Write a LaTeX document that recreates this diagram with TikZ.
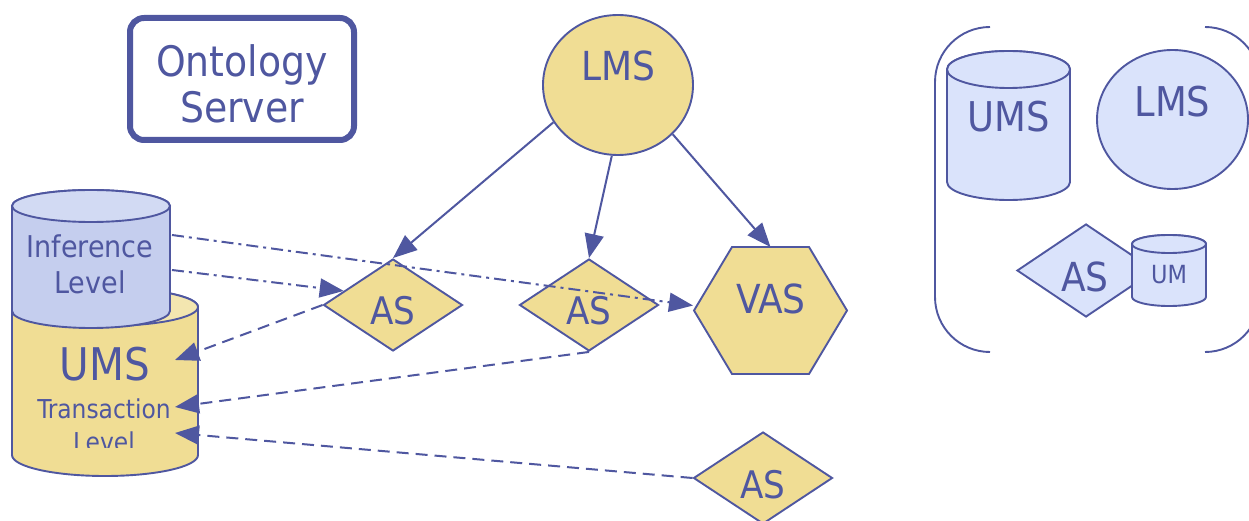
\documentclass[tikz,border=0pt]{standalone}
\usepackage{fontspec}
\setmainfont{DejaVu Sans Condensed}
\usetikzlibrary{arrows.meta,shapes.geometric,calc}
\definecolor{ink}{RGB}{79,87,160}
\definecolor{gold}{RGB}{240,221,148}
\definecolor{goldtop}{RGB}{243,230,176}
\definecolor{infblue}{RGB}{197,206,238}
\definecolor{inftop}{RGB}{210,218,243}
\definecolor{pale}{RGB}{218,227,251}
\newcommand{\fs}[1]{\fontsize{#1}{#1}\selectfont}
\begin{document}
\begin{tikzpicture}[x=1pt,y=-1pt,
  outline/.style={draw=ink, line width=1.9pt},
  txt/.style={text=ink, inner sep=0pt, anchor=base},
  hold/.style={inner sep=0pt, outer sep=0pt},
  diam/.style={diamond, outline, fill=gold, inner sep=0pt, minimum width=139pt, minimum height=92pt},
  link/.style={draw=ink, line width=2pt, -{Triangle[length=24pt,width=19pt]}},
  dashlink/.style={link, dash pattern=on 12pt off 7pt},
  dotlink/.style={link, dash pattern=on 12pt off 5pt on 3pt off 5pt}]
\useasboundingbox (0,0) rectangle (1249,521);

% Ontology server
\node[draw=ink, line width=6pt, rounded corners=14pt, fill=white,
      minimum width=224pt, minimum height=122pt] (onto) at (242,79) {};
\node[txt, font=\fs{42}] at (242,77) {Ontology};
\node[txt, font=\fs{42}] at (242,123) {Server};

% top LMS
\node[ellipse, outline, fill=gold, minimum width=150pt, minimum height=140pt] (lms) at (618,85) {};
\node[txt, font=\fs{40}] at (618,81) {LMS};

% UMS (transaction level) cylinder
\node[hold, minimum width=186pt, minimum height=148pt] (ums) at (105,381) {};
\path[outline, fill=gold] (12,307) -- (12,455)
  arc[start angle=180, end angle=360, x radius=93pt, y radius=21pt]
  -- (198,307) arc[start angle=0, end angle=180, x radius=93pt, y radius=19pt] -- cycle;
\path[outline, fill=goldtop] (105,307) ellipse[x radius=93pt, y radius=19pt];
\node[txt, font=\fs{45}] at (105,380) {UMS};
\node[txt, font=\fs{26}] at (104,418) {Transaction};
\begin{scope}
  \clip (0,0) rectangle (300,447);
  \node[txt, font=\fs{26}] at (104,451) {Level};
\end{scope}

% Inference level cylinder
\node[hold, minimum width=158pt, minimum height=105pt] (inf) at (91,258.5) {};
\path[outline, fill=infblue] (12,206) -- (12,311)
  arc[start angle=180, end angle=360, x radius=79pt, y radius=17pt]
  -- (170,206) arc[start angle=0, end angle=180, x radius=79pt, y radius=16pt] -- cycle;
\path[outline, fill=inftop] (91,206) ellipse[x radius=79pt, y radius=16pt];
\node[txt, font=\fs{30}] at (90,258) {Inference};
\node[txt, font=\fs{30}] at (90,293) {Level};

% AS diamonds
\node[diam] (as1) at (393,305) {};
\node[txt, font=\fs{38}] at (393,324) {AS};
\node[diam] (as2) at (589,305) {};
\node[txt, font=\fs{38}] at (589,324) {AS};
\node[diam] (as3) at (763,478) {};
\node[txt, font=\fs{38}] at (763,498) {AS};

% VAS hexagon
\node[hold, minimum width=153pt, minimum height=127pt] (vas) at (770.5,310.5) {};
\path[outline, fill=gold] (vas.west) -- ($(vas.north west)+(38,0)$) -- ($(vas.north east)+(-38,0)$)
  -- (vas.east) -- ($(vas.south east)+(-38,0)$) -- ($(vas.south west)+(38,0)$) -- cycle;
\node[txt, font=\fs{40}] at (771,313) {VAS};

% right-hand group
\draw[ink, line width=1.9pt] (990,27) arc[start angle=90, end angle=180, radius=55pt]
  -- (935,297) arc[start angle=180, end angle=270, radius=55pt];
\draw[ink, line width=1.9pt] (1205,27) arc[start angle=90, end angle=0, radius=55pt]
  -- (1260,297) arc[start angle=0, end angle=-90, radius=55pt];

\path[outline, fill=pale] (947,69.5) -- (947,182)
  arc[start angle=180, end angle=360, x radius=61.5pt, y radius=18pt]
  -- (1070,69.5) arc[start angle=0, end angle=180, x radius=61.5pt, y radius=18.5pt] -- cycle;
\path[outline, fill=pale] (1008.5,69.5) ellipse[x radius=61.5pt, y radius=18.5pt];
\node[txt, font=\fs{41}] (umsR) at (1008.5,132) {UMS};

\node[ellipse, outline, fill=pale, minimum width=151pt, minimum height=139pt] (lmsR) at (1172.5,119.5) {};
\node[txt, font=\fs{41}] at (1172.5,117) {LMS};

\node[diamond, outline, fill=pale, inner sep=0pt, minimum width=138pt, minimum height=93pt] (asR) at (1086,270.5) {};
\node[txt, font=\fs{40}] at (1085,291) {AS};

\path[outline, fill=pale] (1132,244) -- (1132,297)
  arc[start angle=180, end angle=360, x radius=37pt, y radius=9pt]
  -- (1206,244) arc[start angle=0, end angle=180, x radius=37pt, y radius=9pt] -- cycle;
\path[outline, fill=pale] (1169,244) ellipse[x radius=37pt, y radius=9pt];
\node[txt, font=\fs{25}] (um) at (1169,283) {UM};

% connectors
\draw[link] (lms.210) -- (as1.north);
\draw[link] (lms.265) -- (as2.north);
\draw[link] (lms.318) -- (vas.north);
\draw[dotlink] ($(inf.east)+(2,-23.5)$) -- ($(vas.west)+(-1,-5)$);
\draw[dotlink] ($(inf.east)+(2,11.5)$) -- ($(as1.west)!0.3!(as1.north)$);
\draw[dashlink] (as1.west) -- ($(ums.east)+(-23,-21)$);
\draw[dashlink] (as2.south) -- ($(ums.east)+(-23,26)$);
\draw[dashlink] (as3.west) -- ($(ums.east)+(-23,52)$);
\end{tikzpicture}
\end{document}
